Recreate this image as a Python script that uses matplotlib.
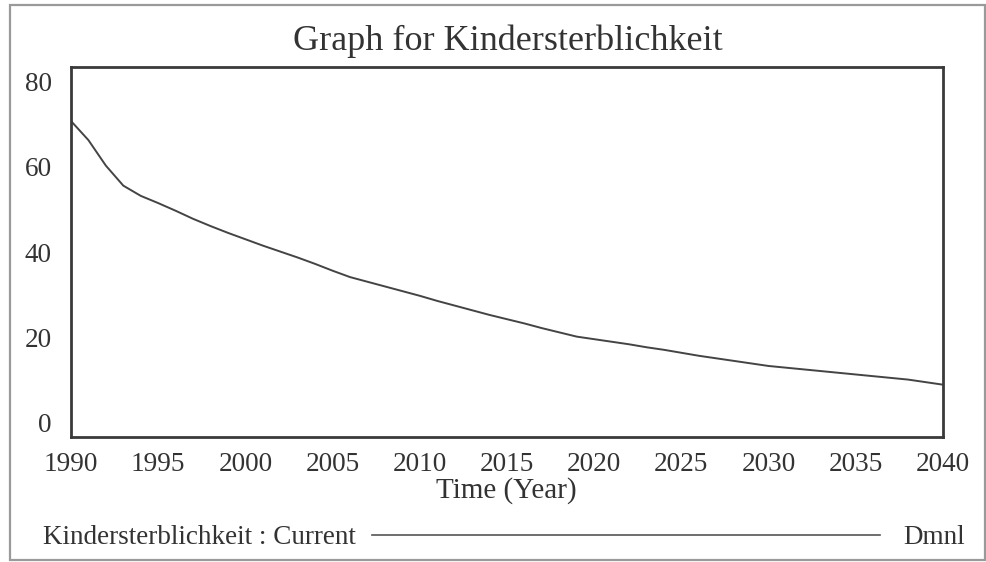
import numpy as np
import matplotlib.pyplot as plt
from matplotlib.patches import Rectangle

# Kindersterblichkeit (Current run)
years = list(range(1990, 2041))
kindersterblichkeit = [
    70.8, 66.3, 60.3, 55.6, 53.2, 51.5, 49.7, 47.8, 46.1, 44.5,
    43.0, 41.5, 40.1, 38.7, 37.2, 35.6, 34.1, 33.0, 31.9, 30.8,
    29.7, 28.5, 27.4, 26.3, 25.2, 24.2, 23.2, 22.1, 21.1, 20.1,
    19.5, 18.9, 18.3, 17.6, 17.0, 16.3, 15.6, 15.0, 14.4, 13.8,
    13.2, 12.8, 12.4, 12.0, 11.6, 11.2, 10.8, 10.4, 10.0, 9.4,
    8.8,
]
x_ticks = list(range(1990, 2041, 5))
y_ticks = [0, 20, 40, 60, 80]

title = "Graph for Kindersterblichkeit"
x_label = "Time (Year)"
legend_label = "Kindersterblichkeit : Current"
units = "Dmnl"

plt.rcParams['font.family'] = ['Liberation Serif', 'DejaVu Serif']
ink = '#333333'

W, H = 987, 562
fig = plt.figure(figsize=(W / 100, H / 100), dpi=100)
fig.patch.set_facecolor('white')

# grey frame of the scanned page
fig.patches.append(Rectangle((10 / W, 2 / H), 975 / W, 555 / H, transform=fig.transFigure,
                             fill=False, edgecolor='#9a9a9a', linewidth=1.6))

ax = fig.add_axes([71 / W, (H - 437) / H, 872 / W, 370 / H])
ax.plot(years, kindersterblichkeit, color='#444444', linewidth=1.4)
ax.set_xlim(1990, 2040)
ax.set_ylim(-3.5, 83.5)
ax.set_xticks(x_ticks)
ax.set_yticks(y_ticks)
ax.tick_params(length=0, labelsize=19.6, labelcolor=ink)
ax.tick_params(axis='x', pad=11)
ax.tick_params(axis='y', pad=14)
for s in ax.spines.values():
    s.set_linewidth(2)
    s.set_color('#3a3a3a')

fig.text(508 / W, 1 - 41 / H, title, ha='center', va='center', fontsize=26, color=ink)
fig.text(506 / W, 1 - 491 / H, x_label, ha='center', va='center', fontsize=21, color=ink)
fig.text(43 / W, 1 - 537 / H, legend_label, ha='left', va='center', fontsize=19.5, color=ink)
fig.text(965 / W, 1 - 537 / H, units, ha='right', va='center', fontsize=19.5, color=ink)
fig.add_artist(plt.Line2D([372 / W, 880 / W], [1 - 535 / H, 1 - 535 / H],
                          transform=fig.transFigure, color='#555555', linewidth=1.2))

fig.savefig('out.png', dpi=100)
